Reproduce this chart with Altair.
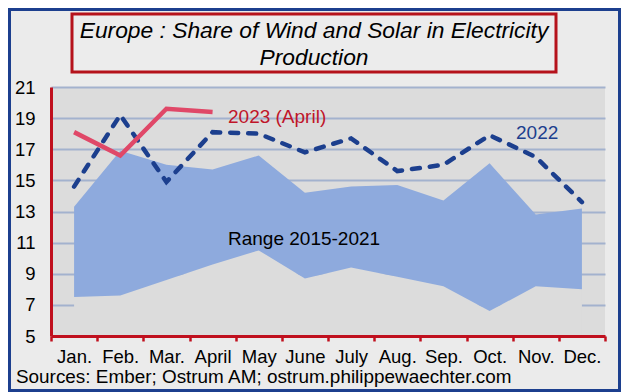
import altair as alt
import pandas as pd

months = ["Jan.", "Feb.", "Mar.", "April", "May", "June", "July", "Aug.", "Sep.", "Oct.", "Nov.", "Dec."]
range_max = [13.3, 16.9, 16.0, 15.7, 16.6, 14.2, 14.6, 14.7, 13.7, 16.1, 12.8, 13.2]
range_min = [7.5, 7.6, 8.6, 9.6, 10.5, 8.7, 9.4, 8.8, 8.2, 6.6, 8.2, 8.0]
y2022 = [14.6, 19.2, 14.9, 18.1, 18.0, 16.8, 17.7, 15.6, 16.0, 17.9, 16.5, 13.6]
months_2023 = ["Jan.", "Feb.", "Mar.", "April"]
y2023 = [18.1, 16.6, 19.6, 19.4]
y_ticks = [5, 7, 9, 11, 13, 15, 17, 19, 21]

title_lines = ["Europe : Share of Wind and Solar in Electricity", "Production"]
source_text = "Sources: Ember; Ostrum AM; ostrum.philippewaechter.com"
label_2023 = "2023 (April)"
label_2022 = "2022"
label_range = "Range 2015-2021"

FONT = "Liberation Sans"
W, H = 554, 249

band_df = pd.DataFrame({"month": months, "upper": range_max, "lower": range_min, "base": [5] * 12})
df22 = pd.DataFrame({"month": months, "v": y2022})
df23 = pd.DataFrame({"month": months_2023, "v": y2023})

x_enc = alt.X(
    "month:N",
    sort=months,
    scale=alt.Scale(paddingInner=0, paddingOuter=0),
    axis=alt.Axis(
        title=None,
        labelAngle=0,
        labelFontSize=18.5,
        labelFont=FONT,
        labelColor="black",
        labelPadding=6,
        labelOverlap=False,
        domainColor="#C0101E",
        domainWidth=3,
        tickColor="#C0101E",
        tickWidth=2.5,
        tickSize=5,
        tickBand="extent",
        grid=False,
        zindex=1,
    ),
)
y_scale = alt.Scale(domain=[5, 21], nice=False, zero=False)
y_axis = alt.Axis(
    title=None,
    values=y_ticks,
    tickCount=9,
    labelFontSize=18.5,
    labelFont=FONT,
    labelColor="black",
    labelPadding=16,
    labelOverlap=False,
    labelFlush=False,
    labelBound=False,
    ticks=False,
    tickSize=0,
    domainColor="#C0101E",
    domainWidth=3,
    grid=True,
    gridColor="#A3B2CE",
    gridWidth=2,
)

base_area = alt.Chart(band_df).mark_area(color="#DCDCDC", opacity=1).encode(
    x=x_enc,
    y=alt.Y("lower:Q", scale=y_scale, axis=y_axis),
    y2="base:Q",
)
band = alt.Chart(band_df).mark_area(color="#8EAADD", opacity=1).encode(
    x=alt.X("month:N", sort=months),
    y=alt.Y("upper:Q"),
    y2="lower:Q",
)
line22 = alt.Chart(df22).mark_line(
    color="#1C3F8E", strokeWidth=4.5, strokeDash=[8, 10], strokeCap="round"
).encode(x=alt.X("month:N", sort=months), y="v:Q")
line23 = alt.Chart(df23).mark_line(color="#E04868", strokeWidth=4.5).encode(
    x=alt.X("month:N", sort=months), y="v:Q"
)


def text_layer(txt, x, y, size=19, color="black", align="left", style="normal"):
    return alt.Chart(pd.DataFrame({"t": [txt]})).mark_text(
        font=FONT, fontSize=size, color=color, align=align, baseline="middle", fontStyle=style
    ).encode(text="t:N", x=alt.value(x), y=alt.value(y))


one = pd.DataFrame({"a": [1]})
outer_border = alt.Chart(one).mark_rect(filled=False, stroke="#1C3F8E", strokeWidth=3).encode(
    x=alt.value(-41.5), x2=alt.value(568.5), y=alt.value(-77.5), y2=alt.value(303.5)
)
title_box = alt.Chart(one).mark_rect(fill="#ECECEC", stroke="#B5121B", strokeWidth=3).encode(
    x=alt.value(21), x2=alt.value(505), y=alt.value(-73), y2=alt.value(-15)
)

layers = [
    base_area,
    band,
    line22,
    line23,
    text_layer(label_2023, 177, 30, color="#C0152A"),
    text_layer(label_2022, 465, 46, color="#1C3F8E"),
    text_layer(label_range, 177, 152),
    title_box,
    text_layer(title_lines[0], 263, -56, size=22.8, align="center", style="italic"),
    text_layer(title_lines[1], 263, -29, size=22.8, align="center", style="italic"),
    text_layer(source_text, -35, 290, size=18.9),
    outer_border,
]

chart = (
    alt.layer(*layers)
    .properties(
        width=W,
        height=H,
        autosize=alt.AutoSizeParams(type="none"),
        padding={"left": 43, "top": 79, "right": 16, "bottom": 56},
        background="#EBEBEB",
    )
    .configure_view(fill="#DCDCDC", stroke=None)
    .configure_axisY(labelOverlap=False)
)

chart.save("out.html", embed_options={"renderer": "svg", "actions": False})
